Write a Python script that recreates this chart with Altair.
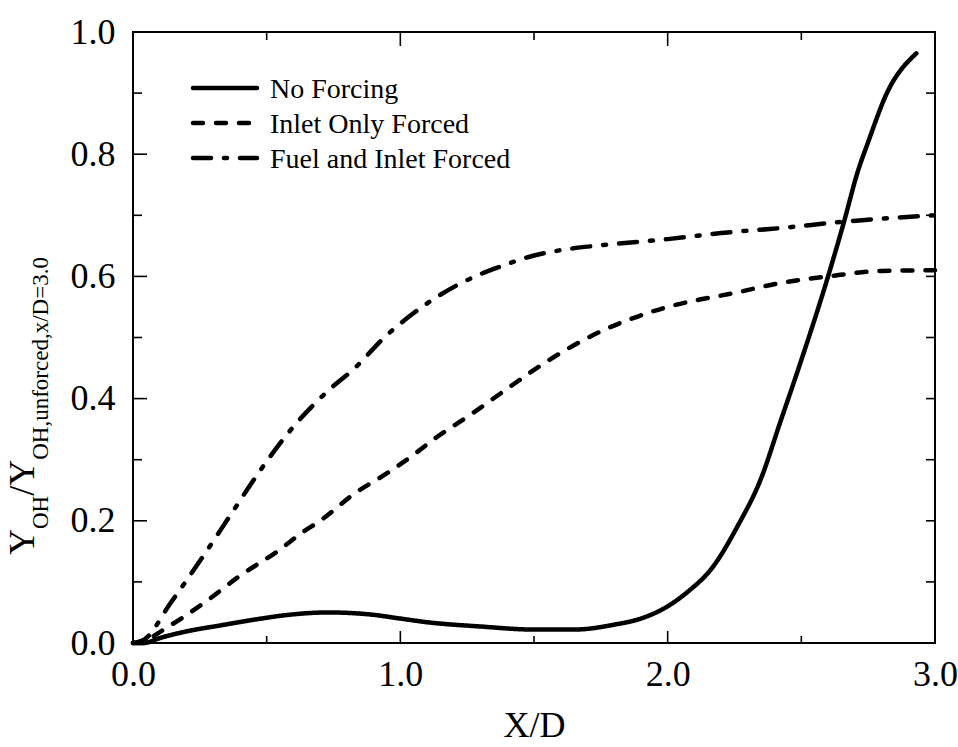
import altair as alt
import pandas as pd

# ---------------- data ----------------
series_names = ["No Forcing", "Inlet Only Forced", "Fuel and Inlet Forced"]

x_noforce = [0, 0.04, 0.10, 0.19, 0.33, 0.48, 0.58, 0.73, 0.88, 1.00, 1.10, 1.30, 1.50, 1.65,
             1.80, 1.90, 2.00, 2.07, 2.17, 2.26, 2.35, 2.42, 2.49, 2.60, 2.66, 2.71, 2.75,
             2.82, 2.93]
y_noforce = [0, 0.0, 0.008, 0.018, 0.029, 0.040, 0.046, 0.050, 0.047, 0.040, 0.034, 0.027,
             0.022, 0.022, 0.030, 0.040, 0.060, 0.082, 0.125, 0.190, 0.270, 0.360, 0.450,
             0.600, 0.690, 0.770, 0.820, 0.900, 0.965]

x_inlet = [0, 0.04, 0.08, 0.18, 0.27, 0.40, 0.54, 0.64, 0.70, 0.83, 0.94, 1.04, 1.13, 1.25,
           1.38, 1.50, 1.62, 1.75, 1.86, 2.00, 2.13, 2.24, 2.42, 2.60, 2.80, 3.00]
y_inlet = [0, 0.0, 0.012, 0.040, 0.067, 0.110, 0.150, 0.183, 0.200, 0.245, 0.275, 0.305,
           0.335, 0.370, 0.410, 0.447, 0.480, 0.510, 0.530, 0.550, 0.563, 0.572, 0.589,
           0.600, 0.609, 0.610]

x_fuel = [0, 0.04, 0.14, 0.27, 0.37, 0.48, 0.60, 0.73, 0.83, 0.94, 1.05, 1.15, 1.28, 1.38,
          1.49, 1.60, 1.75, 2.00, 2.20, 2.42, 2.67, 3.00]
y_fuel = [0, 0.005, 0.065, 0.147, 0.213, 0.285, 0.354, 0.413, 0.450, 0.500, 0.540, 0.570,
          0.600, 0.617, 0.633, 0.643, 0.651, 0.661, 0.671, 0.679, 0.690, 0.700]

x_label_values = [0.0, 1.0, 2.0, 3.0]
y_label_values = [0.0, 0.2, 0.4, 0.6, 0.8, 1.0]
x_major_ticks = [1.0, 2.0]
x_minor_ticks = [0.5, 1.5, 2.5]
y_major_ticks = [0.2, 0.4, 0.6, 0.8]
y_minor_ticks = [0.1, 0.3, 0.5, 0.7, 0.9]

# ---------------- build table ----------------
rows = []
for name, xs, ys in zip(series_names,
                        [x_noforce, x_inlet, x_fuel],
                        [y_noforce, y_inlet, y_fuel]):
    for i, (a, b) in enumerate(zip(xs, ys)):
        rows.append({"series": name, "x": a, "y": b, "order": i})
df = pd.DataFrame(rows)

W, H = 802, 611
FONT = "Liberation Serif"
DASHES = [[1, 0], [10, 13], [18, 13, 3, 13]]

xscale = alt.Scale(domain=[0, 3], nice=False, zero=False)
yscale = alt.Scale(domain=[0, 1], nice=False, zero=False)

x_axis = alt.Axis(values=x_label_values, format=".1f", title="X/D",
                  ticks=False, tickSize=0, domain=False, grid=False, labelFlush=False,
                  labelOverlap=False, labelPadding=14, labelFontSize=36,
                  labelFont=FONT, labelColor="black", titleFont=FONT,
                  titleFontSize=36, titleFontWeight="normal", titleColor="black",
                  titlePadding=16)
y_axis = alt.Axis(values=y_label_values, format=".1f", title=None,
                  ticks=False, tickSize=0, domain=False, grid=False, labelFlush=False,
                  labelOverlap=False, labelPadding=18, labelFontSize=36,
                  labelFont=FONT, labelColor="black")

lines = alt.Chart(df).mark_line(strokeWidth=4.5, color="black", strokeCap="round",
                                interpolate="monotone").encode(
    x=alt.X("x:Q", scale=xscale, axis=x_axis, title="X/D"),
    y=alt.Y("y:Q", scale=yscale, axis=y_axis, title=None),
    strokeDash=alt.StrokeDash("series:N",
                              scale=alt.Scale(domain=series_names, range=DASHES),
                              legend=None),
    order="order:Q",
)

def tick_layer(values, orient, length):
    d = pd.DataFrame({"x": values, "y": values})
    base = alt.Chart(d).mark_rule(color="black", strokeWidth=1.6)
    if orient == "left":
        return base.encode(y=alt.Y("y:Q", scale=yscale, axis=y_axis, title=None),
                           x=alt.value(0), x2=alt.value(length))
    if orient == "right":
        return base.encode(y=alt.Y("y:Q", scale=yscale, axis=y_axis, title=None),
                           x=alt.value(W - length), x2=alt.value(W))
    if orient == "bottom":
        return base.encode(x=alt.X("x:Q", scale=xscale, axis=x_axis, title="X/D"),
                           y=alt.value(H), y2=alt.value(H - length))
    return base.encode(x=alt.X("x:Q", scale=xscale, axis=x_axis, title="X/D"),
                       y=alt.value(0), y2=alt.value(length))

ticks = [
    tick_layer(y_major_ticks, "left", 14),
    tick_layer(y_minor_ticks, "left", 9),
    tick_layer(y_major_ticks + y_minor_ticks, "right", 9),
    tick_layer(x_major_ticks, "bottom", 12),
    tick_layer(x_minor_ticks, "bottom", 7),
    tick_layer(x_major_ticks, "top", 14),
    tick_layer(x_minor_ticks, "top", 8),
]

# ---------------- legend (drawn as a key in the upper left) ----------------
LEG_X0, LEG_X1, LEG_TX = 60, 124, 137
LEG_ROWS = [56, 91, 126]
legend_layers = []
for name, dash, ry in zip(series_names, DASHES, LEG_ROWS):
    legend_layers.append(
        alt.Chart(pd.DataFrame({"series": [name]})).mark_rule(
            color="black", strokeWidth=4.5, strokeCap="round", strokeDash=dash).encode(
            x=alt.value(LEG_X0), x2=alt.value(LEG_X1), y=alt.value(ry))
    )
    legend_layers.append(
        alt.Chart(pd.DataFrame({"series": [name]})).mark_text(
            font=FONT, fontSize=28, align="left", baseline="middle", color="black").encode(
            text="series:N", x=alt.value(LEG_TX), y=alt.value(ry + 2))
    )

# ---------------- rotated y-axis title with subscripts ----------------
BIG, SUB = 36, 23
X_BIG, X_SUB = -99, -85
segments = [("Y", BIG, X_BIG, 523),
            ("OH", SUB, X_SUB, 497),
            ("/", BIG, X_BIG, 463.8),
            ("Y", BIG, X_BIG, 453.8),
            ("OH,unforced,x/D=3.0", SUB, X_SUB, 427.8)]
title_layers = []
for txt, size, xp, yp in segments:
    title_layers.append(
        alt.Chart(pd.DataFrame({"t": [txt]})).mark_text(
            font=FONT, fontSize=size, angle=270, align="left",
            baseline="alphabetic", color="black").encode(
            text="t:N", x=alt.value(xp), y=alt.value(yp))
    )

chart = alt.layer(lines, *ticks, *legend_layers, *title_layers).properties(
    width=W, height=H,
    autosize=alt.AutoSizeParams(type="none"),
    padding={"left": 133, "top": 32, "right": 23, "bottom": 104},
).configure(background="white").configure_view(stroke="black", strokeWidth=2)

chart.save("out.html", embed_options={"renderer": "svg", "actions": False})
